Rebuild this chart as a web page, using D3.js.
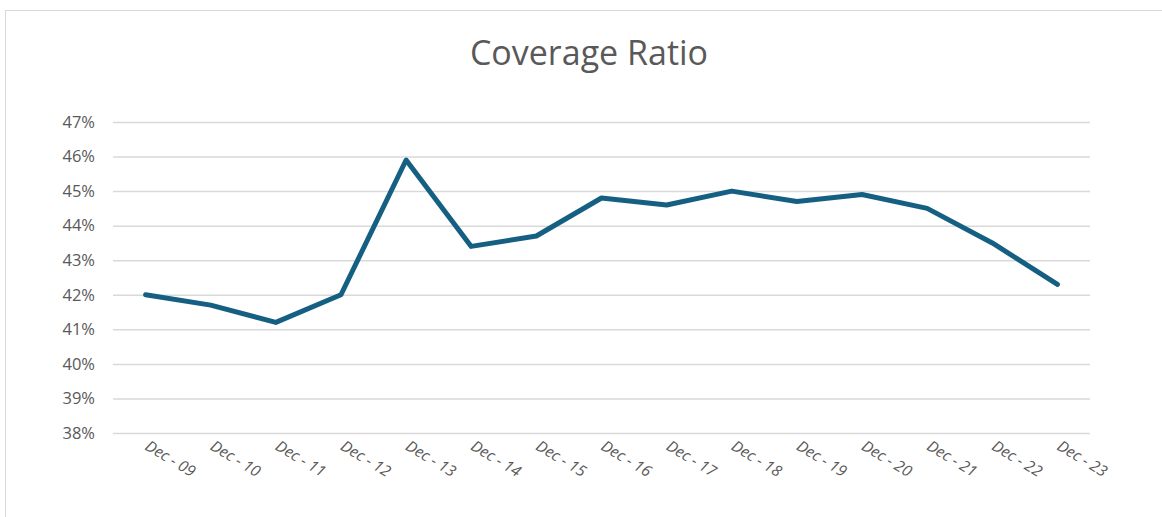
<!DOCTYPE html>
<html>
<head>
<meta charset="utf-8">
<script src="https://cdn.jsdelivr.net/npm/d3@7"></script>
<style>
  html, body { margin: 0; padding: 0; background: #fff; }
  svg { display: block; }
</style>
</head>
<body>
<svg id="chart" width="1162" height="517"></svg>
<script>
// Year-end coverage ratio, in percent
const categories = ["Dec - 09", "Dec - 10", "Dec - 11", "Dec - 12", "Dec - 13", "Dec - 14", "Dec - 15",
  "Dec - 16", "Dec - 17", "Dec - 18", "Dec - 19", "Dec - 20", "Dec - 21", "Dec - 22", "Dec - 23"];
const coverageValues = [42.0, 41.7, 41.2, 42.0, 45.9, 43.4, 43.7, 44.8, 44.6, 45.0, 44.7, 44.9, 44.5, 43.5, 42.3];
const yTicks = [38, 39, 40, 41, 42, 43, 44, 45, 46, 47];
const chartTitle = "Coverage Ratio";

const svg = d3.select("#chart");
const W = 1162, H = 517;
const plot = { left: 113, right: 1090, top: 122, bottom: 433 };
const textColor = "#595959";
const fontFamily = "'Open Sans', 'Noto Sans', sans-serif";

// Outer chart frame
svg.append("rect")
  .attr("x", 5.5).attr("y", 10.5)
  .attr("width", W + 10).attr("height", H + 10)
  .attr("fill", "#fff").attr("stroke", "#d9d9d9").attr("stroke-width", 1);

// Title
svg.append("text")
  .attr("x", 589).attr("y", 65)
  .attr("text-anchor", "middle")
  .attr("font-family", fontFamily)
  .attr("font-size", 34)
  .attr("fill", textColor)
  .text(chartTitle);

const x = d3.scalePoint()
  .domain(categories)
  .range([plot.left, plot.right])
  .padding(0.5);

const y = d3.scaleLinear()
  .domain([38, 47])
  .range([plot.bottom, plot.top]);

// Horizontal gridlines and percent labels
const yAxis = d3.axisLeft(y)
  .tickValues(yTicks)
  .tickSize(-(plot.right - plot.left))
  .tickPadding(18)
  .tickFormat(d => d + "%");

const gy = svg.append("g")
  .attr("transform", `translate(${plot.left},0)`)
  .call(yAxis);
gy.select(".domain").remove();
gy.selectAll(".tick line")
  .attr("stroke", "#d9d9d9").attr("stroke-width", 1.5);
gy.selectAll(".tick text")
  .attr("font-family", fontFamily)
  .attr("font-size", 16.5)
  .attr("fill", textColor);

// Category axis with slanted labels
const xAxis = d3.axisBottom(x).tickSize(0).tickPadding(0);
const gx = svg.append("g")
  .attr("transform", `translate(0,${plot.bottom})`)
  .call(xAxis);
gx.select(".domain").remove();
gx.selectAll(".tick text")
  .attr("font-family", fontFamily)
  .attr("font-size", 15.5)
  .attr("font-style", "italic")
  .attr("fill", textColor)
  .attr("text-anchor", "start")
  .attr("dy", 0)
  .attr("transform", "translate(-2,16) rotate(31)");

// Coverage line
const line = d3.line()
  .x((d, i) => x(categories[i]))
  .y(d => y(d));

svg.append("path")
  .datum(coverageValues)
  .attr("fill", "none")
  .attr("stroke", "#156082")
  .attr("stroke-width", 5)
  .attr("stroke-linejoin", "round")
  .attr("stroke-linecap", "round")
  .attr("d", line);
</script>
</body>
</html>
